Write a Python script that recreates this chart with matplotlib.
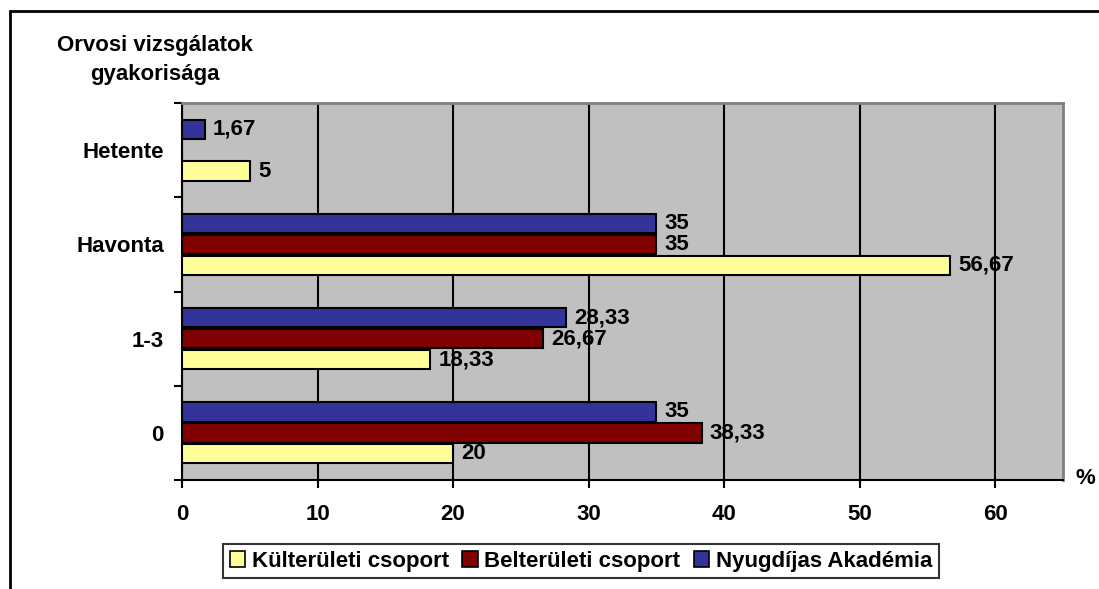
import numpy as np
import matplotlib
matplotlib.use("Agg")
import matplotlib.pyplot as plt
from matplotlib.patches import Rectangle, Patch

plt.rcParams["font.family"] = ["Liberation Sans", "DejaVu Sans"]
plt.rcParams["font.weight"] = "bold"

categories = ["0", "1-3", "Havonta", "Hetente"]
kulteruleti = [20, 18.33, 56.67, 5]
belteruleti = [38.33, 26.67, 35, np.nan]
nyugdijas = [35, 28.33, 35, 1.67]

series = [
    ("Külterületi csoport", kulteruleti, "#FFFF99", -0.222),
    ("Belterületi csoport", belteruleti, "#800000", 0.0),
    ("Nyugdíjas Akadémia", nyugdijas, "#333399", 0.222),
]

FS = 16

fig = plt.figure(figsize=(10.99, 5.89), dpi=100)
W, H = 1099, 589
ax = fig.add_axes([182 / W, 1 - 480 / H, 881 / W, 377 / H])
ax.set_facecolor("#C0C0C0")

y = np.arange(len(categories))
for name, vals, col, off in series:
    vals = np.array(vals, dtype=float)
    ax.barh(y + off, vals, height=0.205, color=col, edgecolor="black",
            linewidth=1.5, label=name, zorder=3)
    for yi, v in zip(y, vals):
        if np.isnan(v):
            continue
        txt = ("%g" % v).replace(".", ",")
        ax.text(v + 0.6, yi + off, txt, va="center", ha="left",
                fontsize=FS, fontweight="bold", zorder=4)

ax.set_xlim(0, 65)
ax.set_ylim(-0.5, 3.5)
ax.set_xticks(range(0, 61, 10))
ax.set_yticks(y)
ax.set_yticklabels(categories)
ax.set_yticks(np.arange(-0.5, 3.6, 1), minor=True)
ax.tick_params(axis="y", which="major", length=0, pad=13, labelsize=FS)
ax.tick_params(axis="y", which="minor", length=6, width=1.5, direction="out")
ax.tick_params(axis="x", length=6, width=1.5, direction="out", pad=11,
               labelsize=FS)
ax.xaxis.grid(True, color="black", linewidth=1.5, zorder=1)
ax.set_axisbelow(True)

ax.spines["left"].set_linewidth(1.5)
ax.spines["bottom"].set_linewidth(1.5)
ax.spines["top"].set_color("#808080")
ax.spines["right"].set_color("#808080")
ax.spines["top"].set_linewidth(2)
ax.spines["right"].set_linewidth(2)

fig.text(155 / W, 1 - 60 / H, "Orvosi vizsgálatok\ngyakorisága",
         ha="center", va="center", fontsize=FS, fontweight="bold",
         linespacing=1.55)
fig.text(1085 / W, 1 - 478 / H, "%", ha="center", va="center",
         fontsize=FS, fontweight="bold")

handles = [Patch(facecolor=c, edgecolor="black", linewidth=1.2, label=n)
           for n, _, c, _ in series]
leg = fig.legend(handles=handles, loc="center", ncol=3,
                 bbox_to_anchor=(581 / W, 1 - 561 / H),
                 fontsize=FS, frameon=True, fancybox=False,
                 handlelength=0.7, handleheight=0.7, handletextpad=0.3,
                 columnspacing=0.6, borderpad=0.3)
leg.get_frame().set_edgecolor("black")
leg.get_frame().set_linewidth(1.5)

frame = Rectangle((10 / W, -0.05), 1.1, 1 - 11 / H + 0.05,
                  transform=fig.transFigure, fill=False,
                  edgecolor="black", linewidth=2)
fig.patches.append(frame)

fig.savefig("out.png", dpi=100)
